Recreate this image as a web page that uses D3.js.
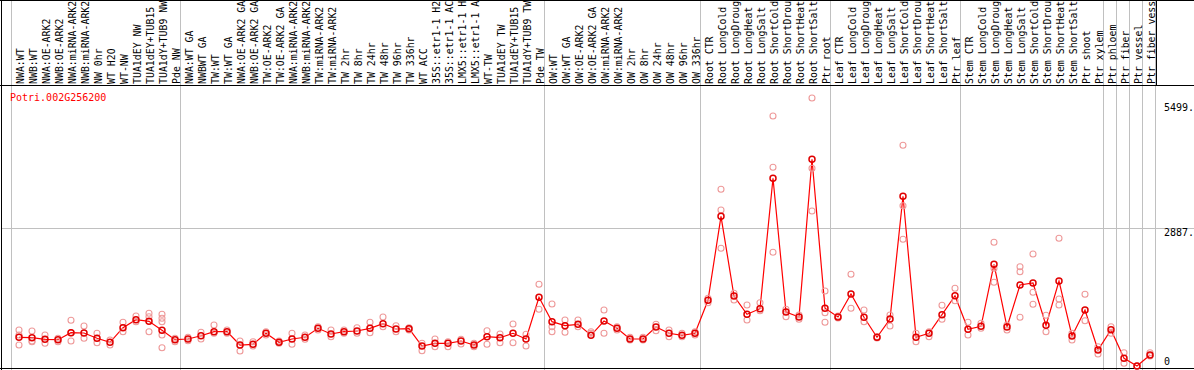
<!DOCTYPE html>
<html>
<head>
<meta charset="utf-8">
<script src="https://cdn.jsdelivr.net/npm/d3@7/dist/d3.min.js"></script>
<style>
  body { margin: 0; background: #fff; overflow: hidden; }
  text { font-family: "DejaVu Sans Mono", "Liberation Mono", monospace; font-size: 10px; }
</style>
</head>
<body>
<script>
const geneName = "Potri.002G256200"

// sample labels, one array per tissue group
const nwLabels = ["NWA:WT", "NWB:WT", "NWA:OE-ARK2", "NWB:OE-ARK2", "NWA:miRNA-ARK2", "NWB:miRNA-ARK2",
  "NW 0hr", "WT H2O", "WT-NW", "TUA1dEY NW", "TUA1dEY+TUB15 NW", "TUA1dY+TUB9 NW", "Pde NW"]
const twLabels = ["NWA:WT GA", "NWBWT GA", "TW:WT", "TW:WT GA", "NWA:OE-ARK2 GA", "NWB:OE-ARK2 GA",
  "TW:OE-ARK2", "TW:OE-ARK2 GA", "NWA:miRNA-ARK2 GA", "NWB:miRNA-ARK2 GA", "TW:miRNA-ARK2", "TW:miRNA-ARK2 GA",
  "TW 2hr", "TW 8hr", "TW 24hr", "TW 48hr", "TW 96hr", "TW 336hr", "WT ACC",
  "35S::etr1-1 H2O", "35S::etr1-1 ACC", "LMX5::etr1-1 H2O", "LMX5::etr1-1 ACC",
  "WT-TW", "TUA1dEY TW", "TUA1dEY+TUB15 TW", "TUA1dY+TUB9 TW", "Pde TW"]
const owLabels = ["OW:WT", "OW:WT GA", "OW:OE-ARK2", "OW:OE-ARK2 GA", "OW:miRNA-ARK2", "OW:miRNA-ARK2 GA",
  "OW 2hr", "OW 8hr", "OW 24hr", "OW 48hr", "OW 96hr", "OW 336hr"]
const rootLabels = ["Root CTR", "Root LongCold", "Root LongDrought", "Root LongHeat", "Root LongSalt",
  "Root ShortCold", "Root ShortDrought", "Root ShortHeat", "Root ShortSalt", "Ptr root"]
const leafLabels = ["Leaf CTR", "Leaf LongCold", "Leaf LongDrought", "Leaf LongHeat", "Leaf LongSalt",
  "Leaf ShortCold", "Leaf ShortDrought", "Leaf ShortHeat", "Leaf ShortSalt", "Ptr leaf"]
const stemLabels = ["Stem CTR", "Stem LongCold", "Stem LongDrought", "Stem LongHeat", "Stem LongSalt",
  "Stem ShortCold", "Stem ShortDrought", "Stem ShortHeat", "Stem ShortSalt", "Ptr shoot", "Ptr xylem"]
const phloemLabels = ["Ptr phloem"]
const fiberLabels = ["Ptr fiber"]
const vesselLabels = ["Ptr vessel"]
const fiberVesselLabels = ["Ptr fiber vessel"]

// mean expression per sample
const nwMeans = [602, 593, 560, 551, 698, 692, 581, 497, 803, 971, 937, 748, 551]
const twMeans = [566, 635, 719, 719, 440, 455, 686, 497, 566, 602, 790, 671, 719, 734, 790, 887, 776, 782,
  419, 476, 476, 524, 440, 614, 593, 686, 566, 1440]
const owMeans = [929, 845, 874, 644, 943, 790, 566, 566, 818, 686, 644, 686]
const rootMeans = [1377, 3138, 1468, 1084, 1201, 3935, 1132, 1027, 4333, 1210]
const leafMeans = [1027, 1509, 1021, 602, 985, 3558, 602, 686, 1076, 1474]
const stemMeans = [769, 832, 2132, 818, 1698, 1740, 853, 1782, 629, 1174, 335]
const phloemMeans = [761]
const fiberMeans = [161]
const vesselMeans = [0]
const fiberVesselMeans = [231]

// replicate values per sample
const nwReps = [[755, 650, 440], [734, 524, 509], [650, 476], [581, 509], [958, 524, 698], [839, 581],
  [686, 488], [440, 545], [916, 719], [1048, 929], [1105, 1034, 719], [1084, 1000, 929, 650, 384], [581, 509]]
const twReps = [[602, 530], [707, 566], [860, 686], [755, 686], [524, 314], [509, 419], [719, 650], [524, 476],
  [686, 455], [650, 560], [824, 755], [755, 614], [755, 686], [803, 686], [916, 698], [1027, 824], [845, 719],
  [803, 755], [476, 321], [566, 405], [509, 405], [560, 461], [476, 405], [740, 455], [671, 488], [881, 488],
  [665, 419], [1713, 1189]]
const owReps = [[1300, 824, 719], [964, 707], [964, 824], [719, 686], [1174, 686], [824, 755], [602, 545],
  [602, 545], [874, 740], [755, 614], [686, 614], [719, 650]]
const rootReps = [[1419, 1327], [3705, 3271, 2468], [1524, 1384], [1279, 964], [1327, 1159], [5241, 4166, 2384],
  [1189, 1034], [1069, 979], [5619, 4145, 3250], [1572, 1117, 916]]
const leafReps = [[1048, 1006], [1922, 1210], [1174, 929], [614, 587], [1069, 839], [4627, 3361, 2656],
  [686, 509], [719, 614], [1273, 979], [1629, 1369]]
const stemReps = [[916, 650], [895, 790], [2593, 2048, 1755], [860, 755], [2082, 1977, 1021], [2348, 1545, 1294],
  [1063, 719], [2677, 1405, 1279], [686, 545], [1503, 950], [405, 252]]
const phloemReps = [[824, 686]]
const fiberReps = [[279, 57]]
const vesselReps = [[0]]
const fiberVesselReps = [[279, 210]]

const yTicks = [0, 2887, 5499]
const yTickLabels = ["0", "2887.", "5499."]

const groups = [
  [nwLabels, nwMeans, nwReps],
  [twLabels, twMeans, twReps],
  [owLabels, owMeans, owReps],
  [rootLabels, rootMeans, rootReps],
  [leafLabels, leafMeans, leafReps],
  [stemLabels, stemMeans, stemReps],
  [phloemLabels, phloemMeans, phloemReps],
  [fiberLabels, fiberMeans, fiberReps],
  [vesselLabels, vesselMeans, vesselReps],
  [fiberVesselLabels, fiberVesselMeans, fiberVesselReps]
]

// flatten into one row per sample
const samples = []
const boundaries = []
groups.forEach(([labels, means, reps]) => {
  boundaries.push(samples.length)
  labels.forEach((name, i) => {
    samples.push({ index: samples.length, name, mean: means[i], reps: reps[i] })
  })
})
boundaries.push(samples.length)

const width = 1194, height = 370
const labelBottom = 85
const plotLeft = 11.5, plotRight = 1155.5
const maxChars = 14 // label column only holds 14 characters

const svg = d3.select("body")
  .append("svg")
  .attr("width", width)
  .attr("height", height)

const x = d3.scaleBand()
  .domain(d3.range(samples.length))
  .range([plotLeft, plotRight])
  .padding(0)

const cx = i => x(i) + x.bandwidth() / 2 + 1
const bx = b => b < samples.length ? x(b) : plotRight

const y = d3.scaleLinear()
  .domain([0, 5499])
  .range([366, 103.7])

// vertical group separators
svg.append("g")
  .selectAll("line")
  .data(boundaries)
  .enter()
  .append("line")
  .attr("x1", bx).attr("x2", bx)
  .attr("y1", 0).attr("y2", height)
  .style("stroke", "#c0c0c0")
  .style("stroke-width", 1)

// horizontal grid (middle tick only)
svg.append("line")
  .attr("x1", 1).attr("x2", width)
  .attr("y1", Math.round(y(yTicks[1])) + 0.5)
  .attr("y2", Math.round(y(yTicks[1])) + 0.5)
  .style("stroke", "#c0c0c0")

// black frame
const frame = [
  [0, 0.5, width, 0.5],
  [0, labelBottom + 0.5, width, labelBottom + 0.5],
  [1.5, 0, 1.5, height],
  [0, 368.5, width, 368.5],
  [1156.5, 0, 1156.5, labelBottom]
]
svg.append("g")
  .selectAll("line")
  .data(frame)
  .enter()
  .append("line")
  .attr("x1", d => d[0]).attr("y1", d => d[1])
  .attr("x2", d => d[2]).attr("y2", d => d[3])
  .style("stroke", "#000")
  .style("stroke-width", 1)

// rotated sample labels, cut to the column height
svg.append("g")
  .selectAll("text")
  .data(samples)
  .enter()
  .append("text")
  .attr("transform", d => `translate(${cx(d.index) + 4.5},${labelBottom - 1}) rotate(-90)`)
  .style("font-size", "9.9px")
  .attr("fill", "#000")
  .text(d => d.name.slice(0, maxChars).trimEnd())

// mean line
const line = d3.line()
  .x(d => cx(d.index))
  .y(d => y(d.mean))

svg.append("path")
  .datum(samples)
  .attr("d", line)
  .style("fill", "none")
  .style("stroke", "#ff0000")
  .style("stroke-width", 1.2)

// replicate circles
const repPoints = samples.flatMap(d => d.reps.map(v => ({ index: d.index, value: v })))
svg.append("g")
  .selectAll("circle")
  .data(repPoints)
  .enter()
  .append("circle")
  .attr("cx", d => cx(d.index))
  .attr("cy", d => y(d.value))
  .attr("r", 3)
  .style("fill", "none")
  .style("stroke", "#ee9a9a")
  .style("stroke-width", 1.1)

// mean circles
svg.append("g")
  .selectAll("circle")
  .data(samples)
  .enter()
  .append("circle")
  .attr("cx", d => cx(d.index))
  .attr("cy", d => y(d.mean))
  .attr("r", 3)
  .style("fill", "none")
  .style("stroke", "#e00000")
  .style("stroke-width", 1.5)

// gene title
svg.append("text")
  .attr("x", 10)
  .attr("y", 100.5)
  .attr("fill", "#ff0000")
  .text(geneName)

// y tick labels on the right
svg.append("g")
  .selectAll("text")
  .data(yTicks)
  .enter()
  .append("text")
  .attr("x", 1164)
  .attr("y", d => Math.min(y(d) + 7.5, 365))
  .attr("fill", "#000")
  .text((d, i) => yTickLabels[i])
</script>
</body>
</html>
